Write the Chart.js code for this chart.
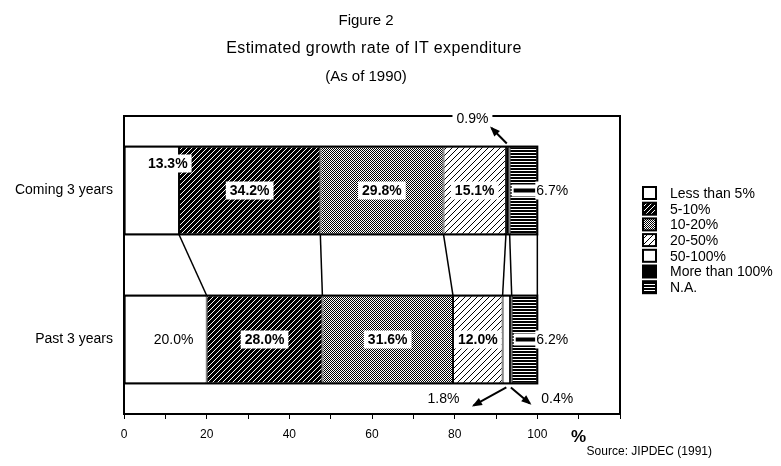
<!DOCTYPE html>
<html>
<head>
<meta charset="utf-8">
<script src="https://cdn.jsdelivr.net/npm/chart.js@4/dist/chart.umd.min.js"></script>
<style>
html,body{margin:0;padding:0;background:#fff;}
#wrap{position:relative;width:781px;height:466px;overflow:hidden;}
#wrap canvas{position:absolute;left:0;top:0;}
.t{position:absolute;left:0;width:732px;text-align:center;font-family:"Liberation Sans",Arial,sans-serif;color:#000;line-height:18px;white-space:nowrap;}
.src{position:absolute;right:69px;top:444px;font-family:"Liberation Sans",Arial,sans-serif;font-size:12px;color:#000;white-space:nowrap;}
</style>
</head>
<body>
<div id="wrap">
  <canvas id="c" width="781" height="466" style="width:781px;height:466px;"></canvas>
  <div class="t" style="top:11px;font-size:15px;">Figure 2</div>
  <div class="t" style="top:39px;left:8px;font-size:16px;letter-spacing:0.4px;">Estimated growth rate of IT expenditure</div>
  <div class="t" style="top:67px;font-size:15px;">(As of 1990)</div>
  <div class="src">Source: JIPDEC (1991)</div>
</div>
<script>
// ---- data ----
const categories = ['Coming 3 years', 'Past 3 years'];
const seriesNames = ['Less than 5%', '5-10%', '10-20%', '20-50%', '50-100%', 'More than 100%', 'N.A.'];
const lessThan5   = [13.3, 20.0];
const from5to10   = [34.2, 28.0];
const from10to20  = [29.8, 31.6];
const from20to50  = [15.1, 12.0];
const from50to100 = [0.0, 1.8];
const moreThan100 = [0.9, 0.4];
const notAvailable = [6.7, 6.2];
const xTickValues = [0, 20, 40, 60, 80, 100, 110];
const xTickLabels = ['0', '20', '40', '60', '80', '100', '%'];

const seriesValues = [lessThan5, from5to10, from10to20, from20to50, from50to100, moreThan100, notAvailable];

// ---- fill patterns ----
function makePattern(w, h, draw) {
  const c = document.createElement('canvas');
  c.width = w; c.height = h;
  const g = c.getContext('2d');
  draw(g, w, h);
  return g.createPattern(c, 'repeat');
}
const darkHatch = makePattern(5, 5, (g) => {
  g.fillStyle = '#000'; g.fillRect(0, 0, 5, 5);
  g.fillStyle = '#fff';
  for (let k = 0; k < 5; k++) g.fillRect(k, 4 - k, 1, 1);
});
const checker = makePattern(2, 2, (g) => {
  g.fillStyle = '#fff'; g.fillRect(0, 0, 2, 2);
  g.fillStyle = '#000'; g.fillRect(0, 0, 1, 1); g.fillRect(1, 1, 1, 1);
});
const lightHatch = makePattern(6, 6, (g) => {
  g.fillStyle = '#fff'; g.fillRect(0, 0, 6, 6);
  g.fillStyle = '#000';
  for (let k = 0; k < 6; k++) g.fillRect(k, 5 - k, 1, 1);
});
const stripes = makePattern(3, 3, (g) => {
  g.fillStyle = '#000'; g.fillRect(0, 0, 3, 2);
  g.fillStyle = '#fff'; g.fillRect(0, 2, 3, 1);
});
const fills = ['#ffffff', darkHatch, checker, lightHatch, '#ffffff', '#000000', stripes];

const FONT = '"Liberation Sans", Arial, sans-serif';

// ---- helpers ----
function arrow(ctx, x1, y1, x2, y2) {
  ctx.save();
  ctx.strokeStyle = '#000'; ctx.fillStyle = '#000'; ctx.lineWidth = 2;
  ctx.beginPath(); ctx.moveTo(x1, y1); ctx.lineTo(x2, y2); ctx.stroke();
  const a = Math.atan2(y2 - y1, x2 - x1), L = 9, W = 0.45;
  ctx.beginPath();
  ctx.moveTo(x2 + 2 * Math.cos(a), y2 + 2 * Math.sin(a));
  ctx.lineTo(x2 - L * Math.cos(a - W), y2 - L * Math.sin(a - W));
  ctx.lineTo(x2 - L * Math.cos(a + W), y2 - L * Math.sin(a + W));
  ctx.closePath(); ctx.fill();
  ctx.restore();
}
function boxedText(ctx, text, cx, cy, bold, box) {
  ctx.save();
  ctx.font = (bold ? 'bold ' : '') + '14px ' + FONT;
  const w = ctx.measureText(text).width;
  if (box) {
    ctx.fillStyle = '#fff';
    ctx.fillRect(cx - w / 2 - 4, cy - 9, w + 8, 18);
  }
  ctx.fillStyle = '#000';
  ctx.textAlign = 'center'; ctx.textBaseline = 'middle';
  ctx.fillText(text, cx, cy + 1);
  ctx.restore();
  return w;
}

// ---- decorations plugin: frame, connectors, labels, legend ----
const decor = {
  id: 'decor',
  afterDraw(chart) {
    const ctx = chart.ctx, area = chart.chartArea, xs = chart.scales.x;
    const metas = chart.data.datasets.map((d, k) => chart.getDatasetMeta(k));
    const el = (d, i) => metas[d].data[i];
    const last = metas.length - 1;

    // frame
    ctx.save();
    ctx.strokeStyle = '#000'; ctx.lineWidth = 2;
    ctx.strokeRect(area.left, area.top, area.right - area.left, area.bottom - area.top);
    ctx.restore();

    // outline of each full bar
    ctx.save();
    ctx.strokeStyle = '#000'; ctx.lineWidth = 2;
    for (let i = 0; i < categories.length; i++) {
      const a = el(0, i), b = el(last, i);
      ctx.strokeRect(a.base, a.y - a.height / 2, b.x - a.base, a.height);
    }
    ctx.restore();

    // connectors between the two bars
    ctx.save();
    ctx.strokeStyle = '#000'; ctx.lineWidth = 1.5;
    for (let d = 0; d < metas.length; d++) {
      if (seriesValues[d][0] === 0 || seriesValues[d][1] === 0) continue;
      const top = el(d, 0), bot = el(d, 1);
      ctx.beginPath();
      ctx.moveTo(top.x, top.y + top.height / 2);
      ctx.lineTo(bot.x, bot.y - bot.height / 2);
      ctx.stroke();
    }
    ctx.restore();

    // value labels
    const txt = v => v.toFixed(1) + '%';
    for (let i = 0; i < categories.length; i++) {
      {
        const e = el(0, i), v = seriesValues[0][i];
        const cx = (e.base + e.x) / 2;
        if (i === 0) boxedText(ctx, txt(v), cx + 16, e.y - 27, true, true);
        else boxedText(ctx, txt(v), cx + 8, e.y, false, false);
      }
      for (const d of [1, 2, 3]) {
        const e = el(d, i), v = seriesValues[d][i];
        boxedText(ctx, txt(v), (e.base + e.x) / 2, e.y, true, true);
      }
      {
        const e = el(6, i), v = seriesValues[6][i];
        ctx.save();
        ctx.fillStyle = '#fff';
        ctx.fillRect(e.base + 2, e.y - 6, e.x - e.base + 2, 12);
        ctx.fillStyle = '#000';
        ctx.fillRect(e.base + 4, e.y - 2, e.x - e.base - 6, 4);
        ctx.font = '14px ' + FONT;
        const w = ctx.measureText(txt(v)).width;
        ctx.fillStyle = '#fff';
        ctx.fillRect(e.x - 2, e.y - 9, w + 6, 18);
        ctx.fillStyle = '#000';
        ctx.textAlign = 'left'; ctx.textBaseline = 'middle';
        ctx.fillText(txt(v), e.x - 1, e.y + 1);
        ctx.restore();
      }
    }
    {
      const e = el(5, 0);
      const topY = e.y - e.height / 2;
      boxedText(ctx, txt(seriesValues[5][0]), xs.getPixelForValue(84.3), area.top + 2, false, true);
      arrow(ctx, (e.base + e.x) / 2 - 1, topY - 3, xs.getPixelForValue(88.9), area.top + 12);
    }
    {
      const e = el(4, 1);
      const botY = e.y + e.height / 2;
      boxedText(ctx, txt(seriesValues[4][1]), xs.getPixelForValue(77.3), botY + 15, false, false);
      arrow(ctx, (e.base + e.x) / 2, botY + 4, xs.getPixelForValue(84.6), botY + 22);
      const f = el(5, 1);
      boxedText(ctx, txt(seriesValues[5][1]), xs.getPixelForValue(104.8), botY + 15, false, false);
      arrow(ctx, (f.base + f.x) / 2, botY + 4, xs.getPixelForValue(98.2), botY + 20);
    }

    // legend
    ctx.save();
    const lx = 643, ly0 = 193, step = 15.7;
    chart.data.datasets.forEach((ds, k) => {
      const y = ly0 + k * step;
      ctx.fillStyle = ds.backgroundColor;
      ctx.fillRect(lx, y - 6, 13, 12);
      ctx.strokeStyle = '#000'; ctx.lineWidth = 2;
      ctx.strokeRect(lx, y - 6, 13, 12);
      ctx.fillStyle = '#000';
      ctx.font = '14px ' + FONT;
      ctx.textAlign = 'left'; ctx.textBaseline = 'middle';
      ctx.fillText(ds.label, 670, y + 1);
    });
    ctx.restore();
  }
};

new Chart(document.getElementById('c'), {
  type: 'bar',
  data: {
    labels: categories,
    datasets: seriesNames.map((name, k) => ({
      label: name,
      data: seriesValues[k],
      backgroundColor: fills[k],
      borderColor: '#000',
      borderWidth: 1,
      borderSkipped: false,
      barPercentage: 0.59,
      categoryPercentage: 1.0
    }))
  },
  options: {
    indexAxis: 'y',
    responsive: false,
    animation: false,
    devicePixelRatio: 1,
    layout: { padding: { top: 116, right: 161, bottom: 0, left: 0 } },
    plugins: {
      legend: { display: false },
      title: { display: false },
      tooltip: { enabled: false }
    },
    scales: {
      x: {
        stacked: true,
        min: 0, max: 120,
        border: { display: false },
        grid: { display: true, drawOnChartArea: false, drawTicks: true, tickLength: 5, color: '#000', lineWidth: 1 },
        ticks: {
          stepSize: 10, autoSkip: false, maxRotation: 0, padding: 8, color: '#000',
          font: (c) => (c.tick && c.tick.value === 110) ? { family: FONT, size: 17, weight: 'bold' } : { family: FONT, size: 12 },
          callback: (v) => { const k = xTickValues.indexOf(v); return k >= 0 ? xTickLabels[k] : ''; }
        },
        afterFit: (s) => { s.height = 52; }
      },
      y: {
        stacked: true,
        border: { display: false },
        grid: { display: false, drawTicks: false },
        ticks: { color: '#000', padding: 11, font: { family: FONT, size: 14 } },
        afterFit: (s) => { s.width = 124; }
      }
    }
  },
  plugins: [decor]
});
</script>
</body>
</html>
